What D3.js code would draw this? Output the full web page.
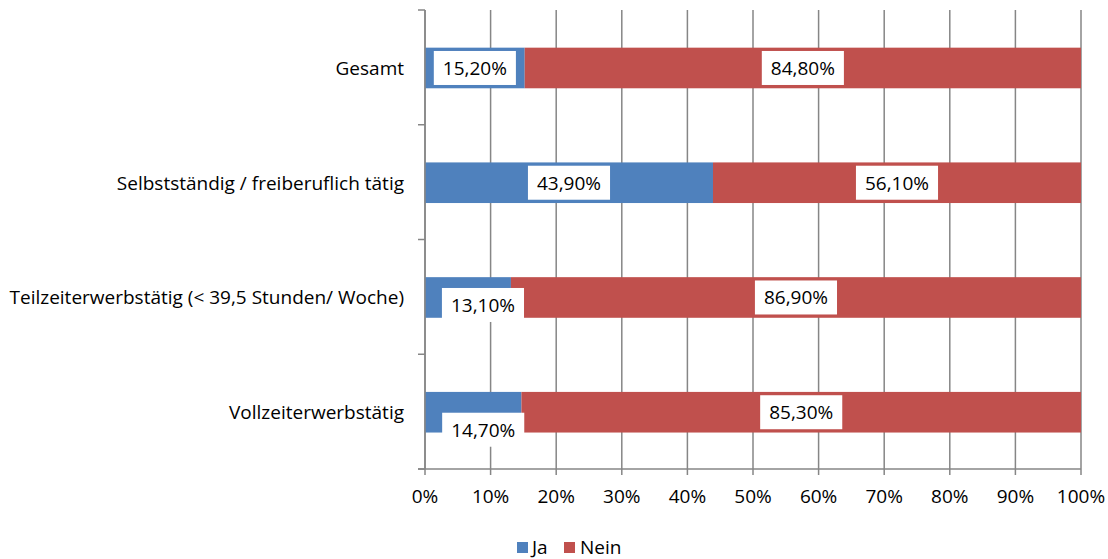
<!DOCTYPE html>
<html>
<head>
<meta charset="utf-8">
<script src="https://cdn.jsdelivr.net/npm/d3@7"></script>
<style>
  html, body { margin: 0; padding: 0; background: #fff; }
  svg text { font-family: "Open Sans", "Liberation Sans", sans-serif; fill: #000; }
</style>
</head>
<body>
<svg id="chart" width="1108" height="559"></svg>
<script>
// ---- data ----
const categories = [
  "Gesamt",
  "Selbstständig / freiberuflich tätig",
  "Teilzeiterwerbstätig (< 39,5 Stunden/ Woche)",
  "Vollzeiterwerbstätig"
];
const seriesNames = ["Ja", "Nein"];
const jaValues   = [15.2, 43.9, 13.1, 14.7];
const neinValues = [84.8, 56.1, 86.9, 85.3];
const xTicks = [0, 10, 20, 30, 40, 50, 60, 70, 80, 90, 100];

// label displacement (as moved in the original to avoid overlap), style only
const jaLabelShift = [[0, 0], [0, 0], [15, 7.5], [10, 17.5]];

const colors = { Ja: "#4F81BD", Nein: "#C0504D" };
const fmt = v => v.toFixed(2).replace(".", ",") + "%";
const fs = "19px";

const svg = d3.select("#chart");
const pLeft = 425, pRight = 1081, pTop = 10, pBottom = 469;

const x = d3.scaleLinear().domain([0, 100]).range([pLeft, pRight]);
const y = d3.scaleBand().domain(categories).range([pTop, pBottom]).padding(0);
const bw = y.bandwidth();
const barH = bw * 0.354;
const barOff = (bw - barH) / 2 + 0.6;

const gridColor = "#868686";

// vertical gridlines
svg.append("g").selectAll("line").data(xTicks).join("line")
  .attr("x1", d => x(d)).attr("x2", d => x(d))
  .attr("y1", pTop).attr("y2", pBottom + 6)
  .attr("stroke", gridColor).attr("stroke-width", 1.5);

// y axis ticks (category boundaries)
const yBounds = categories.map(c => y(c)).concat([pBottom]);
svg.append("g").selectAll("line").data(yBounds).join("line")
  .attr("x1", pLeft - 7).attr("x2", pLeft)
  .attr("y1", d => d).attr("y2", d => d)
  .attr("stroke", gridColor).attr("stroke-width", 1.5);

// x axis line
svg.append("line")
  .attr("x1", pLeft - 7).attr("x2", pRight)
  .attr("y1", pBottom).attr("y2", pBottom)
  .attr("stroke", gridColor).attr("stroke-width", 1.5);

// stacked data
const rows = categories.map((c, i) => ({ cat: c, Ja: jaValues[i], Nein: neinValues[i] }));
const stack = d3.stack().keys(seriesNames)(rows);

const barsG = svg.append("g");
stack.forEach(layer => {
  barsG.append("g").selectAll("rect").data(layer).join("rect")
    .attr("x", d => x(d[0]))
    .attr("width", d => x(d[1]) - x(d[0]))
    .attr("y", d => y(d.data.cat) + barOff)
    .attr("height", barH)
    .attr("fill", colors[layer.key]);
});

// y axis line
svg.append("line")
  .attr("x1", pLeft).attr("x2", pLeft)
  .attr("y1", pTop).attr("y2", pBottom)
  .attr("stroke", gridColor).attr("stroke-width", 1.5);

// data labels
const labelsG = svg.append("g");
stack.forEach(layer => {
  layer.forEach((d, i) => {
    const shift = layer.key === "Ja" ? jaLabelShift[i] : [0, 0];
    const cx = (x(d[0]) + x(d[1])) / 2 + shift[0];
    const cy = y(d.data.cat) + barOff + barH / 2 + shift[1];
    const g = labelsG.append("g");
    const t = g.append("text")
      .attr("x", cx).attr("y", cy)
      .attr("text-anchor", "middle")
      .attr("dy", "0.36em")
      .style("font-size", fs)
      .text(fmt(d.data[layer.key]));
    const w = t.node().getComputedTextLength();
    g.insert("rect", "text")
      .attr("x", cx - w / 2 - 9).attr("y", cy - 17)
      .attr("width", w + 18).attr("height", 34)
      .attr("fill", "#fff");
  });
});

// category labels
svg.append("g").selectAll("text").data(categories).join("text")
  .attr("x", 404)
  .attr("y", d => y(d) + barOff + barH / 2)
  .attr("dy", "0.36em")
  .attr("text-anchor", "end")
  .style("font-size", fs)
  .text(d => d);

// x tick labels
svg.append("g").selectAll("text").data(xTicks).join("text")
  .attr("x", d => x(d))
  .attr("y", 503)
  .attr("text-anchor", "middle")
  .style("font-size", fs)
  .text(d => d + "%");

// legend
const legend = svg.append("g");
const legendItems = [
  { name: "Ja", sx: 517, tx: 532 },
  { name: "Nein", sx: 564, tx: 580 }
];
legend.selectAll("rect").data(legendItems).join("rect")
  .attr("x", d => d.sx).attr("y", 542)
  .attr("width", 11).attr("height", 11)
  .attr("fill", d => colors[d.name]);
legend.selectAll("text").data(legendItems).join("text")
  .attr("x", d => d.tx).attr("y", 554)
  .style("font-size", fs)
  .text(d => d.name);
</script>
</body>
</html>
